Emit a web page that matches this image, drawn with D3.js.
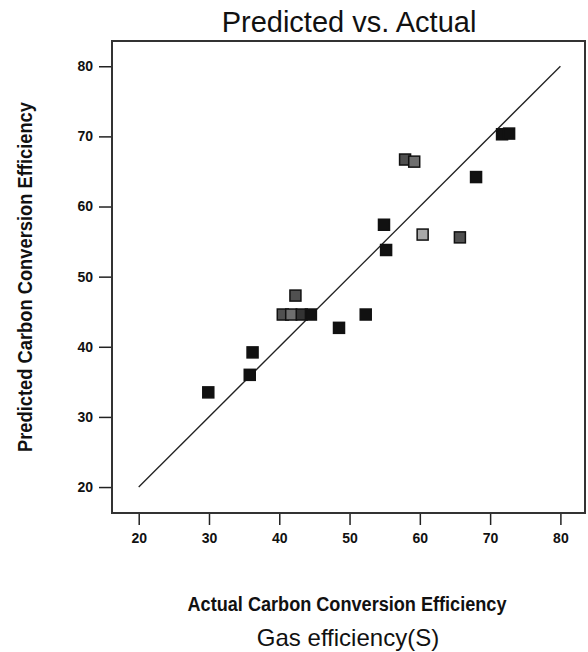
<!DOCTYPE html>
<html>
<head>
<meta charset="utf-8">
<script src="https://cdn.jsdelivr.net/npm/d3@7"></script>
<style>
  body { margin: 0; background: #fff; }
  text { font-family: "Liberation Sans", Arial, sans-serif; fill: #111; }
</style>
</head>
<body>
<script>
// values
var actual    = [29.9, 35.8, 36.2, 40.5, 41.7, 43.2, 44.5, 42.3, 48.5, 52.3, 54.9, 55.2, 60.4, 65.7, 57.9, 59.2, 68.0, 71.7, 72.7];
var predicted = [33.5, 36.0, 39.2, 44.6, 44.6, 44.6, 44.6, 47.3, 42.7, 44.6, 57.4, 53.8, 56.0, 55.6, 66.7, 66.4, 64.2, 70.3, 70.4];
// shade group of each run (0 = black ... 4 = light)
var shade     = [0, 0, 0, 2, 3, 1, 0, 2, 0, 0, 0, 0, 4, 2, 2, 3, 0, 0, 0];
var tickValues = [20, 30, 40, 50, 60, 70, 80];
var refLine = [20, 80];

var svgWidth = 588;
var svgHeight = 652;

var chartMargin = { top: 41, right: 3, bottom: 139, left: 112 };
var chartWidth = svgWidth - chartMargin.left - chartMargin.right;
var chartHeight = svgHeight - chartMargin.top - chartMargin.bottom;

var svg = d3.select("body")
  .append("svg")
  .attr("width", svgWidth)
  .attr("height", svgHeight);

var chartGroup = svg.append("g")
  .attr("transform", `translate(${chartMargin.left}, ${chartMargin.top})`);

var xScale = d3.scaleLinear().domain([16.2, 83.5]).range([0, chartWidth]);
var yScale = d3.scaleLinear().domain([16.3, 83.6]).range([chartHeight, 0]);
var shadeColor = d3.scaleOrdinal()
  .domain([0, 1, 2, 3, 4])
  .range(["#111", "#333", "#505050", "#6e6e6e", "#a8a8a8"]);

// axes, ticks outside the frame
var leftAxis = d3.axisLeft(yScale).tickValues(tickValues).tickSize(13).tickPadding(6).tickSizeOuter(0);
var bottomAxis = d3.axisBottom(xScale).tickValues(tickValues).tickSize(12).tickPadding(8).tickSizeOuter(0);

var yAxisG = chartGroup.append("g").call(leftAxis);
var xAxisG = chartGroup.append("g")
  .attr("transform", `translate(0, ${chartHeight})`)
  .call(bottomAxis);

[yAxisG, xAxisG].forEach(function(g) {
  g.select(".domain").remove();
  g.selectAll(".tick line").attr("stroke", "#222").attr("stroke-width", 1.5);
  g.selectAll(".tick text")
    .attr("fill", "#111")
    .style("font-family", "'Liberation Sans', Arial, sans-serif")
    .style("font-size", "14px")
    .style("font-weight", "bold");
});

// frame
chartGroup.append("rect")
  .attr("x", 0)
  .attr("y", 0)
  .attr("width", chartWidth)
  .attr("height", chartHeight)
  .attr("fill", "none")
  .attr("stroke", "#333")
  .attr("stroke-width", 2);

// 45 degree reference line
chartGroup.append("line")
  .attr("x1", xScale(refLine[0]))
  .attr("y1", yScale(refLine[0]))
  .attr("x2", xScale(refLine[1]))
  .attr("y2", yScale(refLine[1]))
  .attr("stroke", "#222")
  .attr("stroke-width", 1.3);

// points
var size = 11;
chartGroup.selectAll(".pt")
  .data(actual)
  .enter()
  .append("rect")
  .attr("class", "pt")
  .attr("x", (d, i) => xScale(d) - size / 2)
  .attr("y", (d, i) => yScale(predicted[i]) - size / 2)
  .attr("width", size)
  .attr("height", size)
  .attr("fill", (d, i) => shadeColor(shade[i]))
  .attr("stroke", "#111")
  .attr("stroke-width", 1.5);

// titles
svg.append("text")
  .attr("x", 349)
  .attr("y", 32)
  .attr("text-anchor", "middle")
  .style("font-size", "29px")
  .text("Predicted vs. Actual");

svg.append("text")
  .attr("x", 347)
  .attr("y", 611)
  .attr("text-anchor", "middle")
  .attr("textLength", 319)
  .attr("lengthAdjust", "spacingAndGlyphs")
  .style("font-size", "20px")
  .style("font-weight", "bold")
  .text("Actual Carbon Conversion Efficiency");

svg.append("text")
  .attr("transform", "translate(32, 277) rotate(-90)")
  .attr("text-anchor", "middle")
  .attr("textLength", 350)
  .attr("lengthAdjust", "spacingAndGlyphs")
  .style("font-size", "20px")
  .style("font-weight", "bold")
  .text("Predicted Carbon Conversion Efficiency");

svg.append("text")
  .attr("x", 348)
  .attr("y", 646)
  .attr("text-anchor", "middle")
  .style("font-size", "24px")
  .text("Gas efficiency(S)");
</script>
</body>
</html>
